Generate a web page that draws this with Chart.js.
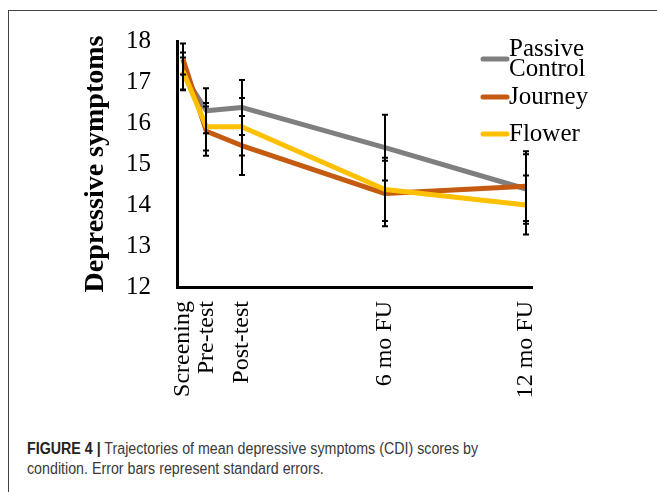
<!DOCTYPE html>
<html>
<head>
<meta charset="utf-8">
<script src="https://cdn.jsdelivr.net/npm/chart.js@4.4.1/dist/chart.umd.min.js"></script>
<style>
  html, body { margin: 0; padding: 0; background: #fff; }
  body { width: 657px; height: 492px; position: relative; overflow: hidden; }
  .frame {
    position: absolute; left: 8px; top: 10px; right: -10px; bottom: -10px;
    border-left: 1px solid #444; border-top: 1px solid #444;
  }
  #chart { position: absolute; left: 0; top: 0; }
  .caption {
    position: absolute; left: 27px; top: 439px; white-space: nowrap;
    font-family: "Liberation Sans", Arial, sans-serif;
    font-size: 16px; line-height: 20px; color: #3a3a3a;
    transform: scaleX(0.89); transform-origin: 0 0;
  }
  .caption b { color: #222; }
</style>
</head>
<body>
<div class="frame"></div>
<canvas id="chart" width="657" height="400"></canvas>
<div class="caption"><b>FIGURE 4 |</b> Trajectories of mean depressive symptoms (CDI) scores by<br>condition. Error bars represent standard errors.</div>
<script>
// time points along the x axis (months from screening)
const timepoints = ["Screening", "Pre-test", "Post-test", "6 mo FU", "12 mo FU"];
const timeline = [0, 1, 2.5, 8.6, 14.6];

// mean CDI scores per condition
const passiveControl = [17.2, 16.3, 16.38, 15.4, 14.39];
const journey = [17.56, 15.8, 15.45, 14.28, 14.46];
const flower = [17.27, 15.91, 15.91, 14.38, 14.0];

// standard errors
const passiveControlSE = [0.4, 0.55, 0.67, 0.8, 0.85];
const journeySE = [0.38, 0.6, 0.72, 0.8, 0.85];
const flowerSE = [0.45, 0.58, 0.7, 0.77, 0.72];

const legendNames = [["Passive", "Control"], ["Journey"], ["Flower"]];

const toPoints = (vals) => vals.map((v, i) => ({ x: timeline[i], y: v }));

//Draws the black standard error bars over the lines
const errorBars = {
  id: "errorBars",
  afterDatasetsDraw(chart) {
    const { ctx } = chart;
    const x = chart.scales.x;
    const y = chart.scales.y;
    ctx.save();
    ctx.strokeStyle = "#000";
    ctx.lineWidth = 2;
    chart.data.datasets.forEach((ds) => {
      ds.data.forEach((pt, i) => {
        const px = Math.round(x.getPixelForValue(pt.x));
        const top = y.getPixelForValue(pt.y + ds.se[i]);
        const bot = y.getPixelForValue(pt.y - ds.se[i]);
        ctx.beginPath();
        ctx.moveTo(px, top);
        ctx.lineTo(px, bot);
        ctx.moveTo(px - 3, top);
        ctx.lineTo(px + 3, top);
        ctx.moveTo(px - 3, bot);
        ctx.lineTo(px + 3, bot);
        ctx.stroke();
      });
    });
    ctx.restore();
  },
};

//Legend on the right with the two line "Passive Control" entry
const sideLegend = {
  id: "sideLegend",
  afterDraw(chart) {
    const { ctx } = chart;
    const markerYs = [59, 97, 134];
    const lineH = 20;
    ctx.save();
    ctx.font = "25px 'Liberation Serif', 'Times New Roman', serif";
    ctx.fillStyle = "#000";
    ctx.textAlign = "left";
    ctx.textBaseline = "alphabetic";
    legendNames.forEach((lines, i) => {
      const ds = chart.data.datasets.find((d) => d.legendIndex === i);
      const my = markerYs[i];
      ctx.strokeStyle = ds.borderColor;
      ctx.lineWidth = 5;
      ctx.lineCap = "round";
      ctx.beginPath();
      ctx.moveTo(483, my);
      ctx.lineTo(507, my);
      ctx.stroke();
      let base = my - ((lines.length - 1) * lineH) / 2 + 7;
      lines.forEach((t) => {
        ctx.fillText(t, 509, base);
        base += lineH;
      });
    });
    ctx.restore();
  },
};

const cvs = document.getElementById("chart").getContext("2d");

new Chart(cvs, {
  type: "line",
  data: {
    datasets: [
      {
        label: "Passive Control",
        data: toPoints(passiveControl),
        se: passiveControlSE,
        borderColor: "#7f7f7f",
        legendIndex: 0,
        order: 3,
      },
      {
        label: "Journey",
        data: toPoints(journey),
        se: journeySE,
        borderColor: "#c55a11",
        legendIndex: 1,
        order: 2,
      },
      {
        label: "Flower",
        data: toPoints(flower),
        se: flowerSE,
        borderColor: "#ffc000",
        legendIndex: 2,
        order: 1,
      },
    ],
  },
  options: {
    responsive: false,
    animation: false,
    elements: {
      line: { borderWidth: 5, tension: 0, borderJoinStyle: "round" },
      point: { radius: 0, hoverRadius: 0 },
    },
    layout: {
      padding: { left: 79, right: 125, top: 41, bottom: 0 },
    },
    plugins: {
      legend: { display: false },
      tooltip: { enabled: false },
    },
    scales: {
      x: {
        type: "linear",
        min: -0.25,
        max: 14.85,
        afterBuildTicks: (scale) => {
          scale.ticks = timeline.map((v) => ({ value: v }));
        },
        afterFit: (scale) => {
          scale.height = 113;
        },
        grid: { display: false, drawTicks: false },
        border: { display: true, color: "#000", width: 3 },
        ticks: {
          autoSkip: false,
          minRotation: 90,
          maxRotation: 90,
          padding: 14,
          color: "#000",
          font: { family: "'Liberation Serif', 'Times New Roman', serif", size: 24 },
          callback: (value, index) => timepoints[index],
        },
      },
      y: {
        min: 12,
        max: 18,
        afterFit: (scale) => {
          scale.width = 98;
        },
        grid: { display: false, drawTicks: false },
        border: { display: true, color: "#000", width: 3 },
        ticks: {
          stepSize: 1,
          padding: 26,
          color: "#000",
          font: { family: "'Liberation Serif', 'Times New Roman', serif", size: 25 },
        },
        title: {
          display: true,
          text: "Depressive symptoms",
          color: "#000",
          padding: 0,
          font: { family: "'Liberation Serif', 'Times New Roman', serif", size: 28, weight: "bold" },
        },
      },
    },
  },
  plugins: [errorBars, sideLegend],
});
</script>
</body>
</html>
